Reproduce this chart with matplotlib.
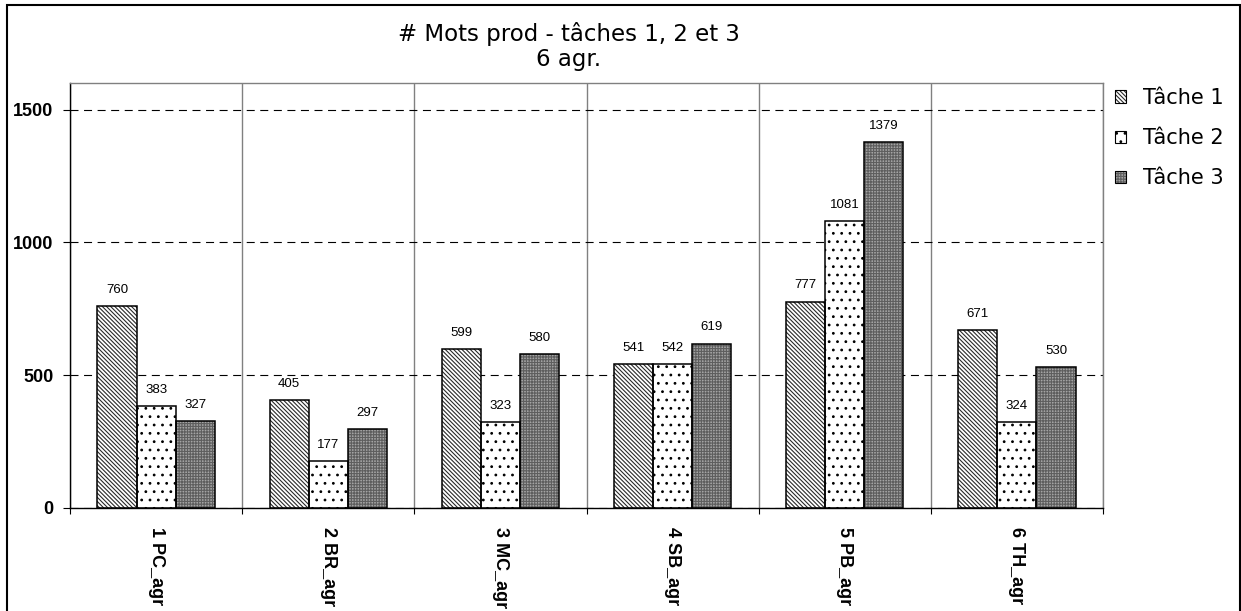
import numpy as np
import matplotlib.pyplot as plt
from matplotlib.patches import Patch, Rectangle
from matplotlib.legend_handler import HandlerTuple

# data
categories = ["1 PC_agr", "2 BR_agr", "3 MC_agr", "4 SB_agr", "5 PB_agr", "6 TH_agr"]
series_names = ["Tâche 1", "Tâche 2", "Tâche 3"]
tache1 = [760, 405, 599, 541, 777, 671]
tache2 = [383, 177, 323, 542, 1081, 324]
tache3 = [327, 297, 580, 619, 1379, 530]
yticks = [0, 500, 1000, 1500]

# face colour, hatch, hatch colour for each series
styles = [
    ("white", "\\" * 8, "#2a2a2a"),
    ("white", "..", "black"),
    ("#a4a4a4", "+" * 6, "#5e5e5e"),
]

plt.rcParams["hatch.linewidth"] = 0.8

W, H = 1241, 611
fig = plt.figure(figsize=(W / 100, H / 100), dpi=100)
ax = fig.add_axes([70 / W, 1 - 508 / H, (1103 - 70) / W, (508 - 83) / H])

x = np.arange(len(categories))
bw = 0.227
for i, vals in enumerate([tache1, tache2, tache3]):
    face, hatch, hcol = styles[i]
    pos = x + (i - 1) * bw
    ax.bar(pos, vals, bw, color=face, hatch=hatch, edgecolor=hcol, linewidth=0, zorder=2)
    ax.bar(pos, vals, bw, fill=False, edgecolor="black", linewidth=1.1, zorder=3)
    for px, v in zip(pos, vals):
        ax.annotate(str(v), (px, v), xytext=(0, 9.5), textcoords="offset points",
                    ha="center", va="baseline", fontsize=9.5, family="Liberation Sans")

ax.set_xlim(-0.5, len(categories) - 0.5)
ax.set_ylim(0, 1600)

ax.set_yticks(yticks)
ax.set_yticklabels([str(t) for t in yticks], fontsize=13, fontweight="bold",
                   family="Liberation Sans")
ax.tick_params(axis="y", length=5, width=0.8, pad=7, color="black")
ax.yaxis.grid(True, color="black", linewidth=0.8, linestyle=(0, (7.2, 5)), zorder=0)

ax.set_xticks(x)
ax.set_xticklabels(categories, rotation=-90, fontsize=13, fontweight="bold",
                   family="Liberation Sans", va="top", ha="center")
ax.set_xticks(np.arange(len(categories) + 1) - 0.5, minor=True)
ax.tick_params(axis="x", which="major", length=0, pad=14)
ax.tick_params(axis="x", which="minor", length=4.5, width=0.8, color="black")
ax.xaxis.grid(True, which="minor", color="#808080", linewidth=1.0, zorder=0)
ax.set_axisbelow(True)

for side in ["top", "right"]:
    ax.spines[side].set_color("#808080")
    ax.spines[side].set_linewidth(1.0)
for side in ["left", "bottom"]:
    ax.spines[side].set_color("black")
    ax.spines[side].set_linewidth(1.0)

# title on two lines
fig.text(569 / W, 1 - 40.7 / H, "# Mots prod - tâches 1, 2 et 3", ha="center",
         va="baseline", fontsize=16.5)
fig.text(569 / W, 1 - 66 / H, "6 agr.", ha="center", va="baseline", fontsize=16.5)

# legend swatches: hatched fill plus black outline, overlaid
handles = [(Patch(facecolor=f, hatch=h, edgecolor=c, linewidth=0),
            Patch(fill=False, edgecolor="black", linewidth=0.8))
           for f, h, c in styles]
fig.legend(handles, series_names, loc="upper left",
           handler_map={tuple: HandlerTuple(ndivide=1)},
           bbox_to_anchor=(1115 / W, 1 - 88 / H), frameon=False, fontsize=15,
           handlelength=0.53, handleheight=0.53, handletextpad=0.8,
           labelspacing=0.97, borderpad=0, borderaxespad=0)

# outer chart border
fig.patches.append(Rectangle((7 / W, -0.05), (1240 - 7) / W, 1.05 - 5 / H,
                             transform=fig.transFigure, fill=False,
                             edgecolor="black", linewidth=1.5))

fig.savefig("out.png", dpi=100)
